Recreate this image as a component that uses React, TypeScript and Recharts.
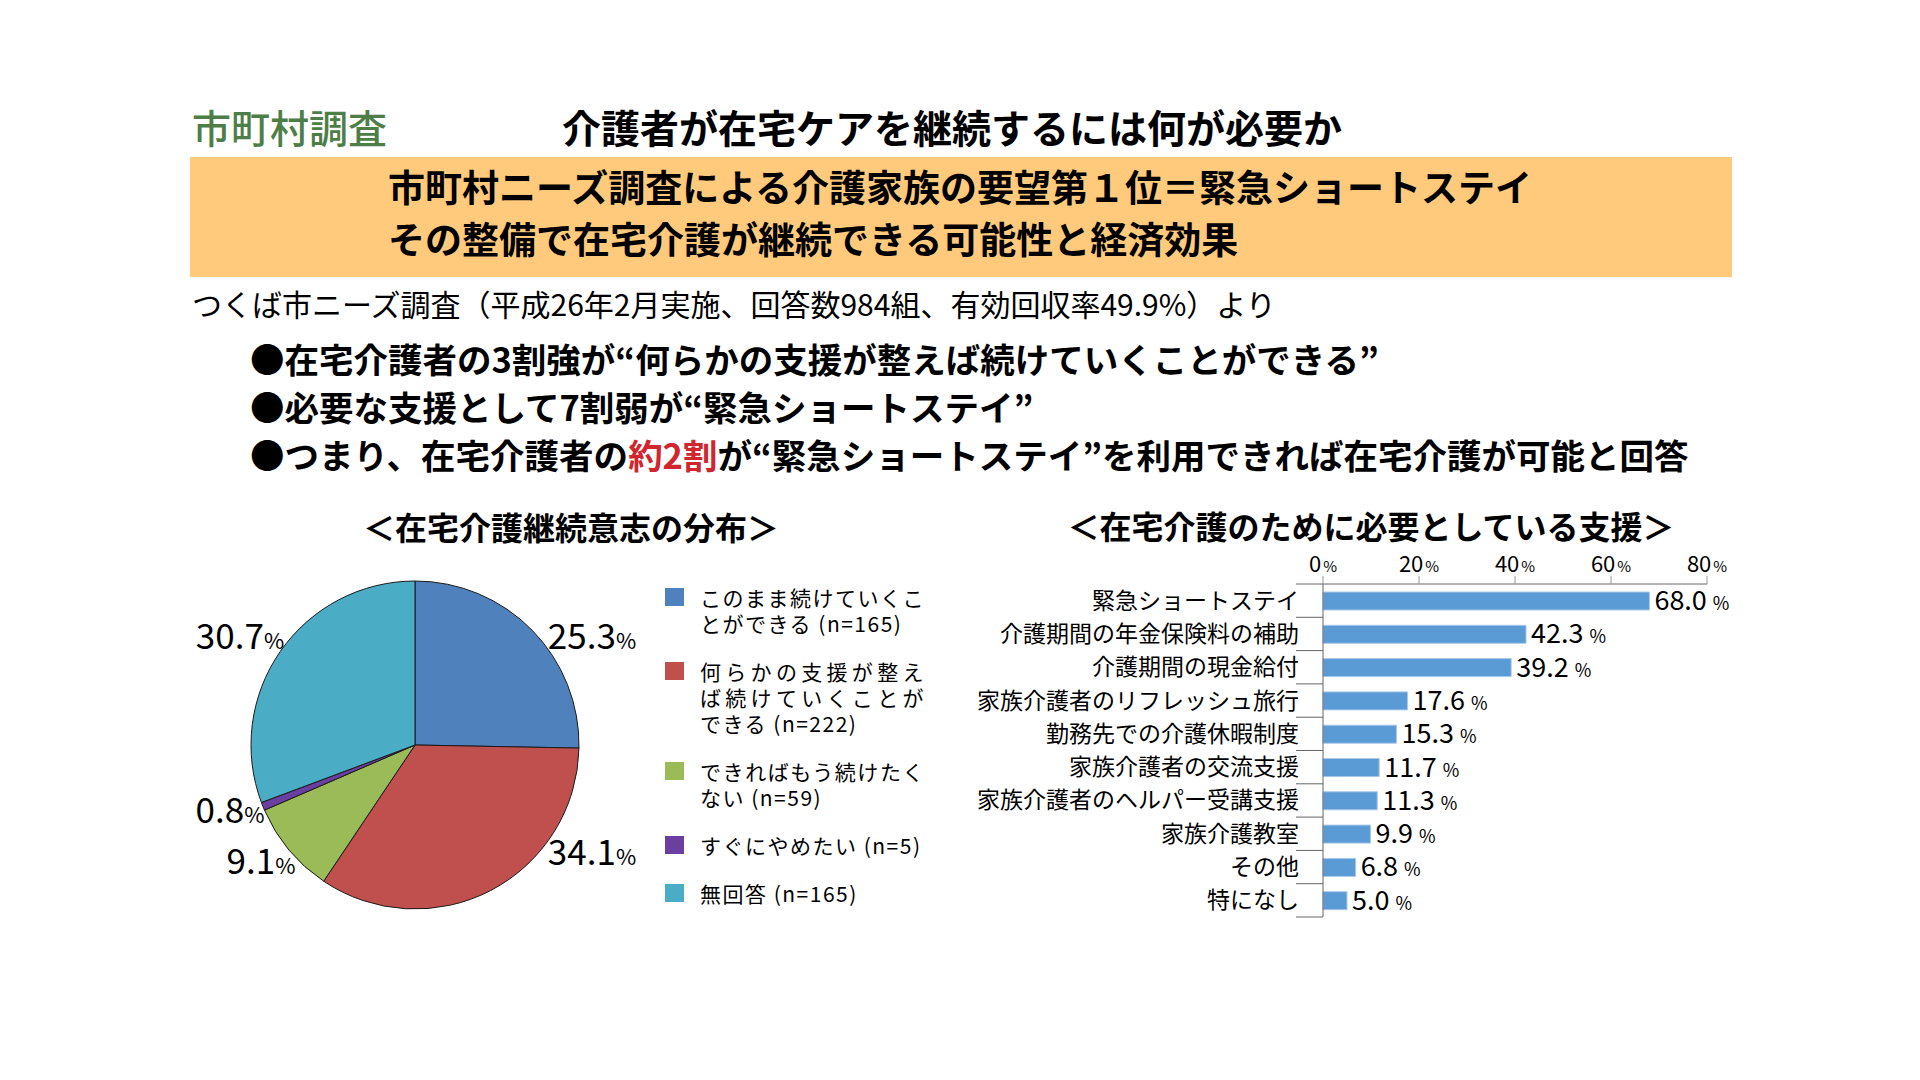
import React from 'react'
import { PieChart, Pie, Cell, BarChart, Bar, XAxis, YAxis, LabelList } from 'recharts'

const FONT = "'Noto Sans CJK JP', 'Noto Sans', sans-serif"

// 在宅介護継続意志の分布 (%)
const pieNames = [
  'このまま続けていくことができる (n=165)',
  '何らかの支援が整えば続けていくことができる (n=222)',
  'できればもう続けたくない (n=59)',
  'すぐにやめたい (n=5)',
  '無回答 (n=165)',
]
const pieValues = [25.3, 34.1, 9.1, 0.8, 30.7]
const pieColors = ['#4F81BD', '#C0504D', '#9BBB59', '#6B3FA0', '#4BACC6']
const pieLegendLines = [
  ['このまま続けていくこ', 'とができる (n=165)'],
  ['何らかの支援が整え', 'ば続けていくことが', 'できる (n=222)'],
  ['できればもう続けたく', 'ない (n=59)'],
  ['すぐにやめたい (n=5)'],
  ['無回答 (n=165)'],
]

// 在宅介護のために必要としている支援 (%)
const supportItems = [
  '緊急ショートステイ',
  '介護期間の年金保険料の補助',
  '介護期間の現金給付',
  '家族介護者のリフレッシュ旅行',
  '勤務先での介護休暇制度',
  '家族介護者の交流支援',
  '家族介護者のヘルパー受講支援',
  '家族介護教室',
  'その他',
  '特になし',
]
const supportRates = [68.0, 42.3, 39.2, 17.6, 15.3, 11.7, 11.3, 9.9, 6.8, 5.0]
const rateTicks = [0, 20, 40, 60, 80]

const pieData = pieNames.map((name, i) => ({ name, value: pieValues[i] }))
const barData = supportItems.map((name, i) => ({ name, rate: supportRates[i] }))

// where each pie percentage sits, relative to the pie centre
const pieLabelOffsets = [
  [177, -108],
  [177, 108],
  [-154, 117],
  [-185, 66],
  [-175, -108],
]

const BAR_W = 800
const BAR_H = 380
const Y_AXIS_W = 363
const PLOT_TOP = 44
const PLOT_BOTTOM_MARGIN = 3
const BAND = (BAR_H - PLOT_TOP - PLOT_BOTTOM_MARGIN) / supportItems.length

function renderPieLabel(props: any) {
  const { cx, cy, index, value } = props
  const [dx, dy] = pieLabelOffsets[index]
  return (
    <text
      x={cx + dx}
      y={cy + dy + 12}
      textAnchor="middle"
      fontFamily={FONT}
      fontSize={35}
      fill="#000"
    >
      {Number(value).toFixed(1)}
      <tspan fontSize={22}>%</tspan>
    </text>
  )
}

function CategoryTick(props: any) {
  const { y, payload, index } = props
  const last = index === supportItems.length - 1
  return (
    <g>
      <line x1={Y_AXIS_W - 27} x2={Y_AXIS_W} y1={y - BAND / 2} y2={y - BAND / 2} stroke="#666" />
      {last && (
        <line x1={Y_AXIS_W - 27} x2={Y_AXIS_W} y1={y + BAND / 2} y2={y + BAND / 2} stroke="#666" />
      )}
      <text x={Y_AXIS_W - 24} y={y + 8} textAnchor="end" fontFamily={FONT} fontSize={23} fill="#000">
        {payload.value}
      </text>
    </g>
  )
}

function RateTick(props: any) {
  const { x, payload } = props
  return (
    <text x={x} y={PLOT_TOP - 12} textAnchor="middle" fontFamily={FONT} fontSize={22} fill="#000">
      {payload.value}
      <tspan fontSize={15} dx={2}>%</tspan>
    </text>
  )
}

function renderRateLabel(props: any) {
  const x = Number(props.x)
  const y = Number(props.y)
  const w = Number(props.width)
  const h = Number(props.height)
  return (
    <text x={x + w + 5} y={y + h / 2 + 9} fontFamily={FONT} fontSize={27} fill="#000">
      {Number(props.value).toFixed(1)}
      <tspan fontSize={18} dx={6}>%</tspan>
    </text>
  )
}

function Txt({ left, top, size, weight = 400, color = '#000', center = false, children }: any) {
  return (
    <div
      style={{
        position: 'absolute',
        left,
        top,
        fontSize: size,
        fontWeight: weight,
        color,
        lineHeight: 1,
        whiteSpace: 'nowrap',
        transform: center ? 'translateX(-50%)' : undefined,
      }}
    >
      {children}
    </div>
  )
}

function PieLegend() {
  return (
    <div style={{ position: 'absolute', left: 665, top: 584 }}>
      {pieLegendLines.map((lines, i) => (
        <div key={pieNames[i]} style={{ display: 'flex', marginBottom: 22 }}>
          <div style={{ width: 19, height: 18, marginTop: 4, background: pieColors[i] }} />
          <div style={{ marginLeft: 16, width: 225, fontSize: 21, lineHeight: '26px', letterSpacing: 1.5 }}>
            {lines.map((line, j) => (
              <div
                key={j}
                style={{
                  whiteSpace: 'nowrap',
                  textAlign: 'justify',
                  textAlignLast: j < lines.length - 1 ? 'justify' : 'left',
                }}
              >
                {line}
              </div>
            ))}
          </div>
        </div>
      ))}
    </div>
  )
}

export default function App() {
  return (
    <div
      style={{
        position: 'absolute',
        left: 0,
        top: 0,
        width: 1920,
        height: 1080,
        background: '#fff',
        fontFamily: FONT,
        color: '#000',
        overflow: 'hidden',
      }}
    >
      <Txt left={192} top={107} size={39} weight={500} color="#4E7E47">市町村調査</Txt>
      <Txt left={562} top={107} size={39} weight={700}>介護者が在宅ケアを継続するには何が必要か</Txt>

      <div style={{ position: 'absolute', left: 190, top: 157, width: 1542, height: 120, background: '#FFCA7C' }} />
      <Txt left={388} top={168} size={37} weight={700}>市町村ニーズ調査による介護家族の要望第１位＝緊急ショートステイ</Txt>
      <Txt left={388} top={220} size={37} weight={700}>その整備で在宅介護が継続できる可能性と経済効果</Txt>

      <Txt left={192} top={288} size={30}>つくば市ニーズ調査（平成26年2月実施、回答数984組、有効回収率49.9%）より</Txt>
      <Txt left={250} top={341} size={34.5} weight={700}>●在宅介護者の3割強が“何らかの支援が整えば続けていくことができる”</Txt>
      <Txt left={250} top={389} size={34.5} weight={700}>●必要な支援として7割弱が“緊急ショートステイ”</Txt>
      <Txt left={250} top={437} size={34.5} weight={700}>
        ●つまり、在宅介護者の<span style={{ color: '#D0262D' }}>約2割</span>が“緊急ショートステイ”を利用できれば在宅介護が可能と回答
      </Txt>

      <Txt left={571} top={510} size={32} weight={700} center>＜在宅介護継続意志の分布＞</Txt>
      <Txt left={1371} top={509} size={32} weight={700} center>＜在宅介護のために必要としている支援＞</Txt>

      <div style={{ position: 'absolute', left: 180, top: 560 }}>
        <PieChart width={470} height={380} margin={{ top: 0, right: 0, bottom: 0, left: 0 }}>
          <Pie
            data={pieData}
            dataKey="value"
            nameKey="name"
            cx={235}
            cy={185}
            outerRadius={164}
            startAngle={90}
            endAngle={-270}
            stroke="#1a1a1a"
            strokeWidth={1}
            label={renderPieLabel}
            labelLine={false}
            isAnimationActive={false}
          >
            {pieData.map((d, i) => (
              <Cell key={d.name} fill={pieColors[i]} />
            ))}
          </Pie>
        </PieChart>
      </div>
      <PieLegend />

      <div style={{ position: 'absolute', left: 960, top: 540 }}>
        <BarChart
          width={BAR_W}
          height={BAR_H}
          data={barData}
          layout="vertical"
          margin={{ top: 0, right: 53, left: 0, bottom: PLOT_BOTTOM_MARGIN }}
        >
          <XAxis
            type="number"
            orientation="top"
            domain={[0, 80]}
            ticks={rateTicks}
            height={PLOT_TOP}
            tickSize={8}
            tickLine={{ stroke: '#999' }}
            axisLine={{ stroke: '#666' }}
            tick={<RateTick />}
            interval={0}
          />
          <YAxis
            type="category"
            dataKey="name"
            width={Y_AXIS_W}
            tickLine={false}
            axisLine={{ stroke: '#666' }}
            tick={<CategoryTick />}
            interval={0}
          />
          <Bar dataKey="rate" fill="#5B9BD5" stroke="#A9C8EA" strokeWidth={1} barSize={18} isAnimationActive={false}>
            <LabelList dataKey="rate" content={renderRateLabel} />
          </Bar>
        </BarChart>
      </div>
    </div>
  )
}
